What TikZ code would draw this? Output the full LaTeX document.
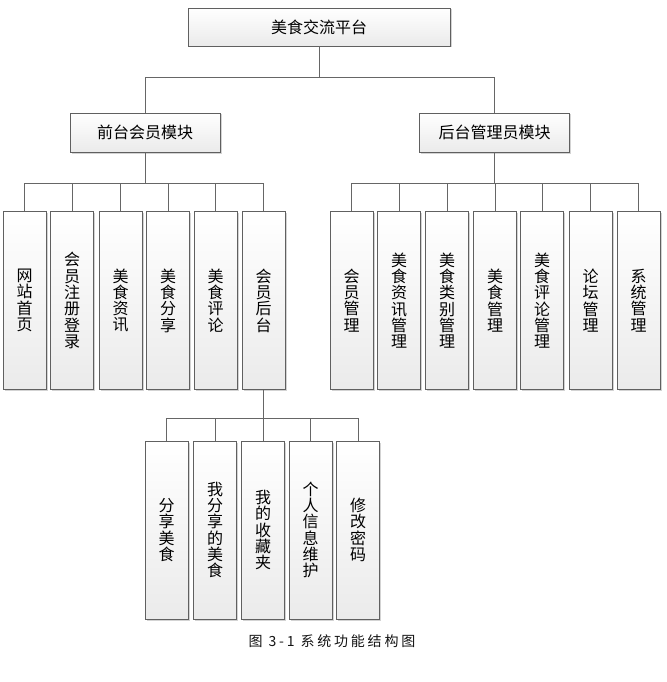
\documentclass[tikz,border=0pt]{standalone}
\usepackage{fontspec}
\newfontfamily\cjk{Noto Sans CJK SC}
\newfontfamily\capfont[LetterSpace=20]{Noto Sans CJK SC}
\usetikzlibrary{shadows}
\tikzset{
  modbox/.style={draw=gray!75!black, line width=0.9pt, top color=white,
    bottom color=gray!16, inner sep=0pt, align=center,
    drop shadow={shadow xshift=1.5pt, shadow yshift=-1.5pt, opacity=0.35, fill=gray},
    font=\cjk\fontsize{16}{16.3}\selectfont},
  leafbox/.style={modbox, minimum width=43pt, minimum height=178pt},
  link/.style={draw=gray!80!black, line width=0.9pt},
}

\begin{document}
\begin{tikzpicture}[x=1pt, y=-1pt]
    \useasboundingbox (0,0) rectangle (666,682);
    % Top and modules
    \node[modbox, minimum width=262pt, minimum height=38pt] (root) at (319,27) {美食交流平台};
    \node[modbox, minimum width=150pt, minimum height=39pt] (front) at (145,132.5) {前台会员模块};
    \node[modbox, minimum width=150pt, minimum height=39pt] (back) at (494.5,132.5) {后台管理员模块};
    % Front leaves
    \foreach \i/\x/\t in {1/24.5/{网\\站\\首\\页}, 2/72/{会\\员\\注\\册\\登\\录},
      3/120.5/{美\\食\\资\\讯}, 4/168/{美\\食\\分\\享}, 5/215.5/{美\\食\\评\\论},
      6/263.5/{会\\员\\后\\台}}
      \node[leafbox] (f\i) at (\x,300.5) {\t};
    % Back leaves
    \foreach \i/\x/\t in {1/351.5/{会\\员\\管\\理}, 2/399/{美\\食\\资\\讯\\管\\理},
      3/447/{美\\食\\类\\别\\管\\理}, 4/495/{美\\食\\管\\理},
      5/542/{美\\食\\评\\论\\管\\理}, 6/590.5/{论\\坛\\管\\理}, 7/638.5/{系\\统\\管\\理}}
      \node[leafbox] (b\i) at (\x,300.5) {\t};
    % Member back end leaves
    \foreach \i/\x/\t in {1/166.5/{分\\享\\美\\食}, 2/215/{我\\分\\享\\的\\美\\食},
      3/263/{我\\的\\收\\藏\\夹}, 4/310.5/{个\\人\\信\\息\\维\\护}, 5/358/{修\\改\\密\\码}}
      \node[leafbox] (s\i) at (\x,530) {\t};
    % Links
    \draw[link] (root.south) -- ++(0,31) -| (front.north);
    \draw[link] (root.south) -- ++(0,31) -| (back.north);
    \foreach \i in {1,...,6}
      \draw[link] (front.south) -- ++(0,31) -| (f\i.north);
    \foreach \i in {1,...,7}
      \draw[link] (back.south) -- ++(0,31) -| (b\i.north);
    \foreach \i in {1,...,5}
      \draw[link] (f6.south) -- ++(0,28) -| (s\i.north);
    % Caption
    \node[font=\capfont\fontsize{14}{15}\selectfont, text=gray!15!black] (cap) at (332,641)
      {图 3-1 系统功能结构图};
\end{tikzpicture}
\end{document}
